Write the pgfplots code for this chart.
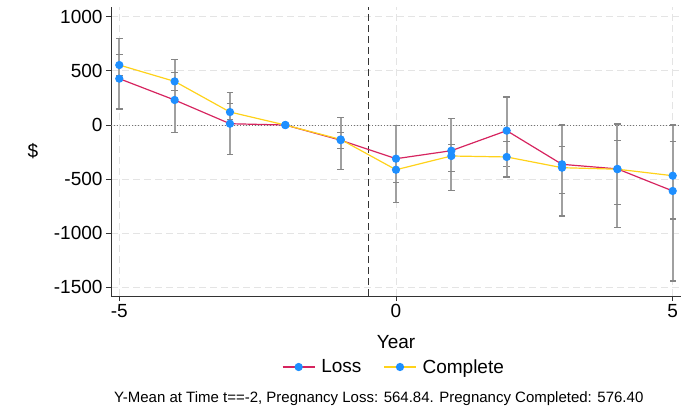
\documentclass[border=0pt]{standalone}
\usepackage{fontspec}
\setmainfont{Liberation Sans}
\usepackage{pgfplots}
\usepackage{pgfplotstable}
\pgfplotsset{compat=1.18}

\definecolor{lossred}{HTML}{D6245F}
\definecolor{compgold}{HTML}{FFD21A}
\definecolor{dotblue}{HTML}{1E8FFF}
\definecolor{cigray}{HTML}{A0A0A0}
\definecolor{capgray}{HTML}{858585}
\definecolor{gridgray}{HTML}{E4E4E4}

% event-time estimates with upper (ep) and lower (em) CI distances
\pgfplotstableread{
x   y     ep   em
-5  428   375  280
-4  231   376  298
-3  12    286  283
-2  0     0    0
-1  -140  211  269
0   -311  305  406
1   -237  299  370
2   -52   311  333
3   -363  363  477
4   -405  414  540
5   -609  609  831
}\losstab

\pgfplotstableread{
x   y     ep   em
-5  554   95   95
-4  403   80   86
-3  120   77   67
-2  0     0    0
-1  -133  66   86
0   -413  116  116
1   -286  108  145
2   -295  141  185
3   -394  194  237
4   -408  263  324
5   -468  320  400
}\comptab

\pgfplotsset{
  ci/.style={only marks, mark=none, forget plot, skip coords between index={3}{4},
    error bars/.cd, y dir=both, y explicit,
    error bar style={draw=cigray, line width=1.8pt},
    error mark=-,
    error mark options={draw=capgray, line width=1.1pt, mark size=3.2pt, rotate=90}},
}

\begin{document}
\begin{tikzpicture}[font=\fontsize{19}{22}\selectfont]
\begin{axis}[
  scale only axis,
  width=570pt, height=289pt,
  xmin=-5.15, xmax=5.15,
  ymin=-1579, ymax=1090,
  axis x line*=bottom, axis y line*=left,
  axis line style={black!80, line width=0.9pt},
  tick align=outside, major tick length=5pt,
  tick style={black!80, line width=0.9pt},
  xtick={-5,0,5}, xticklabels={-5,0,5},
  ytick={-1500,-1000,-500,0,500,1000},
  yticklabels={-1500,-1000,-500,0,500,1000},
  grid=major,
  major grid style={gridgray, line width=0.8pt, dash pattern=on 7pt off 4pt},
  xlabel={Year},
  xlabel style={at={(axis description cs:0.5,0)}, anchor=center, yshift=-46pt},
  ylabel={\$},
  ylabel style={at={(axis description cs:0,0.5)}, anchor=center, rotate=-90, xshift=-78pt},
  legend style={at={(0.5,0)}, anchor=center, yshift=-71pt, draw=none,
    fill=none, legend columns=2,
    nodes={inner xsep=6pt},
    /tikz/every even column/.append style={column sep=16pt}},
  legend image code/.code={\draw[mark repeat=2,mark phase=2,#1]
    plot coordinates {(0pt,0pt) (16pt,0pt) (32pt,0pt)};},
]
\coordinate (bl) at (rel axis cs:0,0);
\coordinate (tr) at (rel axis cs:1,1);

\draw[black!55, line width=1pt, dash pattern=on 1pt off 2pt]
  (axis cs:-5.15,0) -- (axis cs:5.15,0);
\draw[black!80, line width=1.4pt, dash pattern=on 7pt off 4pt]
  (axis cs:-0.5,-1579) -- (axis cs:-0.5,1090);

% confidence intervals
\addplot[ci] table[x=x, y=y, y error plus=ep, y error minus=em]{\losstab};
\addplot[ci] table[x=x, y=y, y error plus=ep, y error minus=em]{\comptab};

% point estimates
\addplot[lossred, line width=1.2pt, mark=*, mark size=3.5pt,
  mark options={fill=dotblue, draw=dotblue}]
  table[x=x, y=y]{\losstab};
\addlegendentry{Loss}
\addplot[compgold, line width=1.2pt, mark=*, mark size=3.5pt,
  mark options={fill=dotblue, draw=dotblue}]
  table[x=x, y=y]{\comptab};
\addlegendentry{Complete}
\end{axis}
\node[anchor=base west, font=\fontsize{15}{17}\selectfont, inner sep=0pt]
  at ([shift={(3pt,-106pt)}]bl)
  {Y-Mean at Time t==-2, Pregnancy Loss: 564.84. Pregnancy Completed: 576.40};
\pgfresetboundingbox
\path ([shift={(-111pt,-113pt)}]bl) rectangle ([shift={(0pt,7pt)}]tr);
\end{tikzpicture}
\end{document}
